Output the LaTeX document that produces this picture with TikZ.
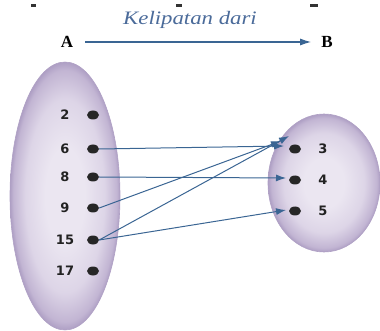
\documentclass[tikz,border=0pt]{standalone}
\usepackage{graphicx}
\usepackage{fontspec}
\setmainfont{Liberation Serif}
\newfontfamily\numfont{DejaVu Sans}
\usetikzlibrary{arrows.meta,calc,shapes.geometric}
\definecolor{arrowblue}{HTML}{3A6593}
\definecolor{setin}{HTML}{EBE6F1}
\definecolor{setmid}{HTML}{DDD5E7}
\definecolor{setrim}{HTML}{C2B5D3}
\definecolor{setout}{HTML}{AE9FC4}
\definecolor{setedge}{HTML}{B0A1C5}
\definecolor{titleblue}{HTML}{4B6B9A}
\definecolor{numcol}{HTML}{222222}
\pgfdeclareradialshading{setshade}{\pgfpoint{0bp}{0bp}}{%
  color(0bp)=(setin); color(9bp)=(setin); color(18bp)=(setmid);
  color(23.5bp)=(setrim); color(25bp)=(setout); color(50bp)=(setout)}
\begin{document}
\begin{tikzpicture}[x=1pt,y=-1pt,
  dotn/.style={ellipse,fill=black!85,minimum width=12pt,minimum height=9pt,inner sep=0pt},
  lbl/.style={font=\numfont\bfseries\fontsize{13}{13}\selectfont,text=numcol,inner sep=0pt},
  headlbl/.style={font=\rmfamily\bfseries\fontsize{17}{17}\selectfont,text=black,inner sep=0pt},
  conn/.style={draw=arrowblue,line width=1pt,-{Latex[length=10pt,width=7pt]}},
  setshape/.style={shading=setshade,draw=setedge,line width=0.6pt}
]
\useasboundingbox (0,0) rectangle (380,331);
% cut-off marks at top
\fill[black!80] (31,4.5) rectangle (36,7);
\fill[black!80] (176,4.5) rectangle (182,7);
\fill[black!80] (310,4.5) rectangle (318,7);
% title and heads
\node[font=\rmfamily\itshape\fontsize{19}{19}\selectfont,text=titleblue,inner sep=0pt] (title) at (190,20) {\scalebox{1.2}[1]{Kelipatan dari}};
\node[headlbl] (A) at (67,42) {A};
\node[headlbl] (B) at (327,42) {B};
\draw[draw=arrowblue,line width=1.1pt,-{Latex[length=11pt,width=7pt]}] ([xshift=12pt]A.east) -- ([xshift=-10pt]B.west);
% sets
\path[setshape] (65,196) ellipse [x radius=55pt,y radius=134pt];
\path[setshape] (324,183) ellipse [x radius=56pt,y radius=69pt];
% domain
\foreach \v/\y in {2/115,6/149,8/177,9/208,15/240,17/271}{
  \node[dotn] (d\v) at (93,\y) {};
  \node[lbl] (l\v) at (65,\y) {\v};
}
% codomain
\foreach \v/\y in {3/149,4/180,5/211}{
  \node[dotn] (c\v) at (295,\y) {};
  \node[lbl] (k\v) at (323,\y) {\v};
}
% connectors
\draw[conn] (d6.east) -- ([shift={(-11pt,3pt)}]c3.center);
\draw[conn] (d9.east) -- ([shift={(-14pt,8pt)}]c3.center);
\draw[conn] (d15.east) -- ([shift={(-6pt,13pt)}]c3.center);
\draw[conn] (d8.east) -- ([shift={(-9pt,2pt)}]c4.center);
\draw[conn] (d15.east) -- ([shift={(-9pt,1pt)}]c5.center);
\end{tikzpicture}
\end{document}
